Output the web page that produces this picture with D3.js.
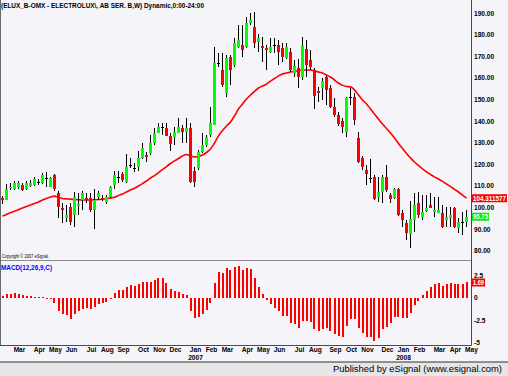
<!DOCTYPE html>
<html><head><meta charset="utf-8">
<script src="https://cdn.jsdelivr.net/npm/d3@7"></script>
<style>
html,body{margin:0;padding:0;background:#f5f4f8;}
svg{display:block;}
text{font-family:Arial,"Liberation Sans",sans-serif;}
</style></head>
<body>
<svg id="c" width="508" height="376"></svg>
<script>
// ---------- DATA ----------
const title = "(ELUX_B-OMX - ELECTROLUX\\, AB SER. B,W) Dynamic,0:00-24:00";
const opens = [104.6,103.5,109.0,108.5,109.6,110.4,108.8,110.1,110.4,112.0,111.2,113.5,109.7,115.1,106.9,100.0,95.0,100.4,96.5,100.5,
103.5,104.6,104.3,98.9,105.0,104.6,102.7,104.7,110.4,114.3,115.5,112.0,119.8,118.5,118.9,122.8,124.5,125.1,129.8,134.4,
137.5,136.7,133.0,132.8,134.4,136.7,135.1,137.0,117.1,118.2,125.9,129.0,133.6,138.2,166.8,163.7,152.9,169.9,166.0,174.5,
175.3,174.5,185.4,183.8,176.5,174.8,173.8,172.2,175.3,175.3,173.8,169.2,172.2,162.2,164.5,160.3,173.3,168.4,163.7,154.1,
155.3,160.6,155.3,146.7,142.9,140.2,135.1,151.4,151.4,132.1,122.8,117.4,113.5,114.3,105.0,107.3,114.3,105.8,104.3,108.5,
97.3,93.0,87.7,94.2,102.0,95.8,98.5,101.2,98.1,97.6,97.3,94.2,95.0,99.6,90.4,93.4,93.4];
const highs = [105.3,110.9,111.2,112.1,112.3,111.2,112.4,112.8,114.3,113.1,115.9,116.6,114.3,115.5,107.8,102.0,101.2,101.9,107.3,106.6,
107.8,106.6,106.6,108.5,107.7,105.6,105.6,110.1,116.9,116.9,116.3,124.7,123.1,120.5,126.2,129.8,125.9,133.6,136.7,139.0,
139.0,139.0,134.5,137.5,141.3,138.2,141.3,139.0,118.9,126.7,134.4,133.6,146.7,174.5,171.5,171.5,170.7,170.7,178.4,184.6,
184.6,188.4,190.0,190.7,180.5,179.2,175.3,178.4,178.4,177.6,176.1,176.1,173.8,168.4,168.7,179.2,177.6,173.0,164.5,156.0,
159.9,161.4,156.8,150.6,144.4,141.3,151.4,155.3,152.9,135.1,123.9,119.7,122.4,115.1,114.3,115.1,119.7,106.6,109.2,109.2,
98.9,94.2,103.2,106.6,107.3,105.8,105.8,106.6,105.0,105.0,101.2,100.4,100.4,100.4,95.0,98.1,98.9];
const lows = [101.6,103.3,108.1,108.1,108.6,107.8,108.3,109.5,109.8,110.6,110.9,109.7,109.4,107.8,95.0,93.0,93.3,91.9,91.1,96.5,
99.0,102.0,98.1,89.9,103.5,102.9,101.5,104.3,108.5,111.2,111.9,111.5,118.2,116.6,116.9,122.4,121.2,124.3,129.0,134.4,
133.6,133.2,126.0,129.0,134.4,129.8,129.8,111.2,109.7,117.4,125.1,128.2,132.8,138.2,165.3,156.0,151.4,156.8,165.3,173.8,
169.9,173.8,184.6,173.8,172.2,167.6,163.7,171.5,171.5,166.0,167.6,168.7,162.9,160.6,155.3,159.1,160.3,163.7,145.5,149.0,
149.8,147.5,146.0,142.1,137.8,134.4,132.8,147.5,138.2,120.5,117.4,110.4,111.2,103.5,102.7,102.2,107.3,102.0,103.8,96.0,
91.1,85.0,81.1,88.8,95.0,94.2,98.1,99.6,95.5,97.3,90.4,91.1,91.1,90.4,88.1,87.3,91.1];
const closes = [103.5,108.5,109.6,111.2,111.2,108.1,111.2,111.5,113.1,112.0,115.1,113.5,113.5,108.5,100.1,99.0,96.5,93.4,105.0,101.5,
106.6,103.5,98.9,103.5,106.9,103.8,104.7,109.4,115.1,114.3,112.8,118.9,119.8,118.5,122.8,127.5,123.3,129.8,134.4,137.5,
137.5,133.2,129.5,135.1,137.5,135.1,136.7,112.0,112.0,125.9,128.9,132.8,139.0,166.8,166.8,156.8,169.2,163.7,176.1,177.6,
173.0,185.7,186.9,176.1,178.5,173.8,173.0,174.3,175.3,172.2,169.9,174.3,163.7,165.6,160.6,174.8,166.0,165.3,151.7,153.2,
158.8,154.5,146.7,142.9,138.7,137.2,150.6,151.4,140.6,121.2,118.9,115.5,113.5,104.0,107.3,114.3,108.1,104.0,108.5,96.5,
94.2,88.1,94.5,101.2,96.5,98.1,99.6,99.6,98.9,98.9,91.1,95.8,96.5,91.1,93.4,93.4,95.75];
const movingAvg = [96.1,96.8,97.6,98.3,99.0,99.8,100.5,101.2,101.9,102.6,103.5,104.2,104.9,105.3,104.7,104.2,104.0,103.9,103.7,103.6,
103.5,103.5,103.5,103.6,103.7,103.9,104.1,104.4,104.8,105.6,106.3,107.2,108.1,108.9,110.0,111.1,112.3,113.7,114.8,116.2,
117.6,119.0,120.4,121.6,122.7,123.9,124.6,123.9,123.4,123.7,124.3,125.5,127.1,129.9,133.2,135.7,137.8,139.6,142.4,145.7,
148.0,150.3,152.1,153.8,155.4,156.3,157.2,158.6,159.8,161.0,161.9,162.3,162.8,163.0,163.5,163.7,163.7,163.7,163.3,162.8,
162.3,161.4,160.5,159.1,157.7,156.6,156.1,155.9,154.5,152.1,149.8,148.0,145.7,143.3,141.0,138.7,136.6,134.5,132.2,129.7,
127.4,125.0,123.0,121.1,119.5,117.9,116.5,115.3,114.2,113.2,112.1,110.9,109.7,108.4,107.2,105.8,104.31];
const macdHist = [0.19,0.37,0.4,0.55,0.4,0.26,0.19,0.19,0.11,0.11,0.08,-0.15,-0.15,-0.55,-1.44,-1.8,-1.96,-2.37,-1.8,-1.48,
-1.3,-1.1,-1.3,-1.0,-0.7,-0.63,-0.44,-0.19,0.55,0.85,0.85,1.15,1.4,1.33,1.52,1.7,1.7,1.78,1.96,2.15,
2.15,1.67,0.96,0.78,0.67,0.37,0.3,-1.44,-2.22,-2.1,-1.8,-1.37,-0.55,1.67,2.81,2.7,3.26,3.07,3.44,3.52,
3.07,3.26,3.17,2.2,1.22,0.4,-0.26,-0.74,-1.1,-1.48,-2.0,-2.04,-2.85,-2.96,-3.4,-2.6,-2.55,-2.67,-3.52,-3.67,
-3.52,-3.4,-3.67,-4.04,-4.22,-4.33,-3.15,-2.37,-2.37,-3.4,-3.96,-4.33,-4.41,-4.78,-4.44,-3.52,-3.22,-2.78,-2.1,-2.1,
-2.22,-2.3,-1.67,-0.81,-0.37,0.3,0.78,1.22,1.48,1.67,1.3,1.48,1.67,1.48,1.48,1.48,1.69];
const priceTicks = [190,180,170,160,150,140,130,120,110,100,90,80];
const macdTicks = [2.5,0,-2.5,-5];
const monthLabels = ["Mar","Apr","May","Jun","Jul","Aug","Sep","Oct","Nov","Dec","Jan","Feb","Mar","Apr","May","Jun","Jul","Aug","Sep","Oct","Nov","Dec","Jan","Feb","Mar","Apr","May"];
const monthBars = [4,9,13,17,22,26,30,35,39,43,48,52,56,61,65,69,74,78,83,87,91,96,100,104,109,113,117];
const yearLabels = ["2007","2008"];
const yearBars = [48,100];
const lastMA = "104.311577", lastClose = "95.75", lastMacd = "1.69";

// ---------- SCALES ----------
const svg = d3.select("#c");
const n = closes.length;
const x = d3.scaleLinear().domain([0, 117]).range([2.5, 470.5]);
const y = d3.scaleLinear().domain([80, 190]).range([250.7, 13.3]);
const ym = d3.scaleLinear().domain([-5, 2.5]).range([342.7, 275.2]);
const axisX = 471.5;

svg.append("rect").attr("x",0).attr("y",0).attr("width",508).attr("height",376).attr("fill","#f5f4f8");

// title
svg.append("text").attr("x",1).attr("y",7.6).attr("font-size","6.6px").attr("font-weight","bold")
  .attr("textLength",203).attr("lengthAdjust","spacingAndGlyphs").attr("fill","#000").text(title);

// moving average
svg.append("path").datum(movingAvg)
  .attr("d", d3.line().x((d,i)=>x(i)).y(d=>y(d)).curve(d3.curveMonotoneX))
  .attr("fill","none").attr("stroke","#ff0000").attr("stroke-width",1.6);

// candles
const g = svg.append("g").attr("shape-rendering","crispEdges");
const idx = d3.range(n);
g.selectAll("line.w").data(idx).join("line")
  .attr("x1",i=>x(i)).attr("x2",i=>x(i))
  .attr("y1",i=>y(highs[i])).attr("y2",i=>y(lows[i]))
  .attr("stroke","#000").attr("stroke-width",1);
g.selectAll("rect.b").data(idx).join("rect")
  .attr("x",i=>x(i)-1.5).attr("width",3)
  .attr("y",i=>Math.min(y(opens[i]),y(closes[i])))
  .attr("height",i=>Math.max(1,Math.abs(y(opens[i])-y(closes[i]))))
  .attr("fill",i=>closes[i]>opens[i]?"#00ff00":(closes[i]<opens[i]?"#ff0000":"#000"));

// copyright
svg.append("text").attr("x",2).attr("y",258).attr("font-size","4.6px").attr("fill","#000")
  .attr("textLength",47).attr("lengthAdjust","spacingAndGlyphs").text("Copyright \u00a9 2007 eSignal.");

// panel separator
svg.append("line").attr("x1",0).attr("x2",axisX).attr("y1",260.5).attr("y2",260.5).attr("stroke","#8a8a8a").attr("stroke-width",1.2);

// MACD label
svg.append("text").attr("x",1).attr("y",269.5).attr("font-size","6.8px").attr("font-weight","bold").attr("fill","#0000ff")
  .attr("textLength",51).attr("lengthAdjust","spacingAndGlyphs").text("MACD(12,26,9,C)");

// MACD histogram
svg.append("g").attr("shape-rendering","crispEdges").selectAll("rect").data(idx).join("rect")
  .attr("x",i=>Math.round(x(i)-1)).attr("width",2)
  .attr("y",i=>Math.min(ym(0),ym(macdHist[i])))
  .attr("height",i=>Math.max(0.5,Math.abs(ym(macdHist[i])-ym(0))))
  .attr("fill","#ff0000");

// axes lines
svg.append("line").attr("x1",0.5).attr("x2",0.5).attr("y1",0).attr("y2",345.5).attr("stroke","#6a6a6a");
svg.append("line").attr("x1",axisX).attr("x2",axisX).attr("y1",0).attr("y2",345.5).attr("stroke","#4a4a4a");
svg.append("line").attr("x1",0).attr("x2",axisX).attr("y1",345.5).attr("y2",345.5).attr("stroke","#4a4a4a");

// price axis labels
svg.append("g").selectAll("text").data(priceTicks).join("text")
  .attr("x",474).attr("y",d=>y(d)+2.4).attr("font-size","6.6px").attr("font-weight","bold").attr("fill","#000")
  .text(d=>d3.format(".2f")(d));
// macd axis labels
svg.append("g").selectAll("text").data(macdTicks).join("text")
  .attr("x",474).attr("y",d=>ym(d)+2.4).attr("font-size","6.6px").attr("font-weight","bold").attr("fill","#000")
  .text(d=>d===0?"0":String(d));

// value boxes
function box(val, yv, w, fill){
  svg.append("rect").attr("x",472).attr("y",yv-4).attr("width",w).attr("height",8).attr("fill",fill);
  svg.append("text").attr("x",473).attr("y",yv+2.4).attr("font-size","6.6px").attr("font-weight","bold")
    .attr("fill","#fff").attr("textLength",w-2).attr("lengthAdjust","spacingAndGlyphs").text(val);
}
box(lastMA, y(movingAvg[n-1]), 35, "#ff0000");
box(lastClose, y(closes[n-1]), 17, "#00ee00");
box(lastMacd, ym(macdHist[n-1]), 13, "#ff0000");

// month labels
svg.append("g").selectAll("text").data(monthLabels).join("text")
  .attr("x",(d,i)=>x(monthBars[i])+1).attr("y",352.3).attr("text-anchor","middle")
  .attr("font-size","6.6px").attr("font-weight","bold").attr("fill","#000").text(d=>d);
svg.append("g").selectAll("text").data(yearLabels).join("text")
  .attr("x",(d,i)=>x(yearBars[i])+1).attr("y",360).attr("text-anchor","middle")
  .attr("font-size","6.6px").attr("font-weight","bold").attr("fill","#000").text(d=>d);

// bottom band
svg.append("rect").attr("x",0).attr("y",362).attr("width",508).attr("height",14).attr("fill","#e6e6e6");
svg.append("line").attr("x1",0).attr("x2",508).attr("y1",362).attr("y2",362).attr("stroke","#303030");
svg.append("text").attr("x",333).attr("y",371.6).attr("font-size","9.6px").attr("fill","#000")
  .attr("textLength",169).attr("lengthAdjust","spacingAndGlyphs").text("Published by eSignal (www.esignal.com)");
</script>
</body></html>
